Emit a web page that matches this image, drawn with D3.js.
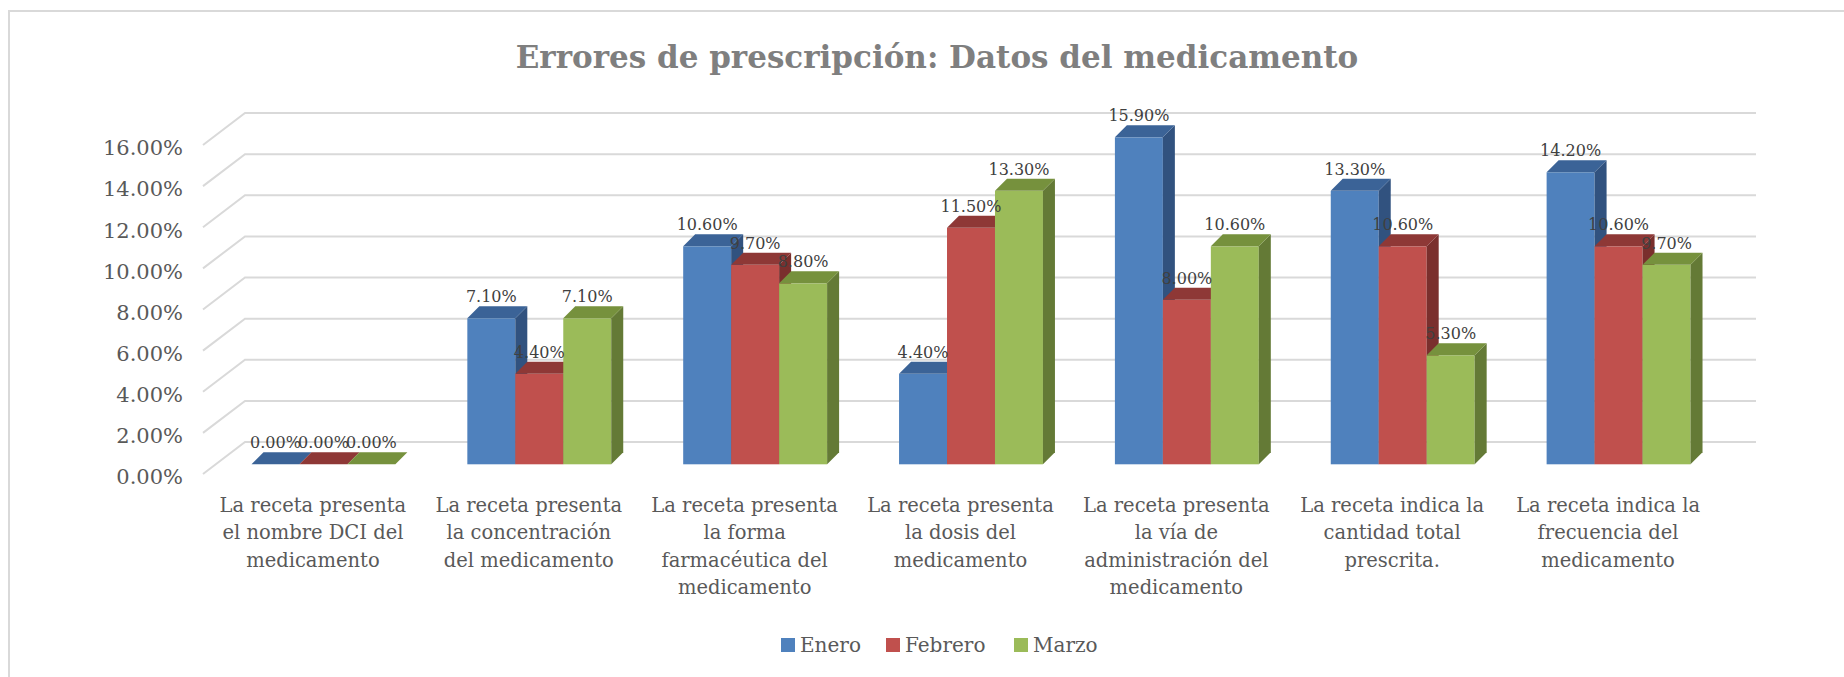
<!DOCTYPE html>
<html>
<head>
<meta charset="utf-8">
<script src="https://cdn.jsdelivr.net/npm/d3@7"></script>
<style>
  body { margin: 0; background: #fff; }
  text { font-family: "DejaVu Serif", serif; }
</style>
</head>
<body>
<div class="canvas-container"></div>
<script>

// data
var categories = [
    ["La receta presenta", "el nombre DCI del", "medicamento"],
    ["La receta presenta", "la concentración", "del medicamento"],
    ["La receta presenta", "la forma", "farmacéutica del", "medicamento"],
    ["La receta presenta", "la dosis del", "medicamento"],
    ["La receta presenta", "la vía de", "administración del", "medicamento"],
    ["La receta indica la", "cantidad total", "prescrita."],
    ["La receta indica la", "frecuencia del", "medicamento"]
];
var seriesNames = ["Enero", "Febrero", "Marzo"];
var enero   = [0.000, 0.071, 0.106, 0.044, 0.159, 0.133, 0.142];
var febrero = [0.000, 0.044, 0.097, 0.115, 0.080, 0.106, 0.106];
var marzo   = [0.000, 0.071, 0.088, 0.133, 0.106, 0.053, 0.097];
var yTicks  = [0, 0.02, 0.04, 0.06, 0.08, 0.10, 0.12, 0.14, 0.16];

var values = [enero, febrero, marzo];

var front = ["#4F81BD", "#C0504D", "#9BBB59"],
    top_  = ["#3B6397", "#8E3836", "#76913D"],
    side  = ["#31527F", "#7A2F2D", "#647A36"];

var width = 1844, height = 677;

// oblique projection offsets
var floorD = {x: 42, y: -32},     // front plane -> back wall
    barOff = {x: 12.5, y: -9.7},  // front plane -> bar front face
    barD   = {x: 12, y: -12};     // bar depth

var svg = d3.select("div.canvas-container")
    .append("svg")
    .attr("width", width)
    .attr("height", height);

svg.append("rect")
    .attr("width", width).attr("height", height)
    .attr("fill", "#fff");

// chart border (only top and left fall inside the picture)
svg.append("path")
    .attr("d", "M9,700 L9,11 L1900,11")
    .attr("fill", "none")
    .attr("stroke", "#d9d9d9")
    .attr("stroke-width", 2);

var x0 = d3.scaleBand()
    .domain(d3.range(categories.length))
    .range([203, 1714]);

var x1 = d3.scaleBand()
    .domain(d3.range(seriesNames.length))
    .range([0, x0.bandwidth()])
    .paddingOuter(0.75);

var y = d3.scaleLinear()
    .domain([0, 0.16])
    .range([474, 145]);

var pct = d3.format(".2%");

// gridlines on floor diagonal + back wall
var grid = svg.append("g");
yTicks.forEach(function (t) {
    var fx = x0.range()[0], fy = y(t);
    grid.append("path")
        .attr("d", "M" + fx + "," + fy +
              "L" + (fx + floorD.x) + "," + (fy + floorD.y) +
              "L" + (x0.range()[1] + floorD.x) + "," + (fy + floorD.y))
        .attr("fill", "none")
        .attr("stroke", "#d9d9d9")
        .attr("stroke-width", 2);
});

// y axis labels
svg.append("g").selectAll("text")
    .data(yTicks)
    .enter()
    .append("text")
    .attr("x", 183)
    .attr("y", function (d) { return y(d) + 3; })
    .attr("dy", "0.35em")
    .attr("text-anchor", "end")
    .attr("font-size", 21)
    .attr("fill", "#595959")
    .text(function (d) { return pct(d); });

// bars
var bars = svg.append("g");
var labels = [];
categories.forEach(function (c, i) {
    seriesNames.forEach(function (s, j) {
        var v = values[j][i];
        var xl = x0(i) + x1(j) + barOff.x,
            xr = xl + x1.bandwidth(),
            yb = y(0) + barOff.y,
            yt = y(v) + barOff.y;

        if (v > 0) {
            bars.append("rect")
                .attr("x", xl).attr("y", yt)
                .attr("width", xr - xl).attr("height", yb - yt)
                .attr("fill", front[j]);
            bars.append("path")
                .attr("d", "M" + xr + "," + yt + "L" + (xr + barD.x) + "," + (yt + barD.y) +
                      "L" + (xr + barD.x) + "," + (yb + barD.y) + "L" + xr + "," + yb + "Z")
                .attr("fill", side[j]);
        }
        bars.append("path")
            .attr("d", "M" + xl + "," + yt + "L" + xr + "," + yt +
                  "L" + (xr + barD.x) + "," + (yt + barD.y) +
                  "L" + (xl + barD.x) + "," + (yt + barD.y) + "Z")
            .attr("fill", top_[j]);

        labels.push({x: (xl + xr) / 2, y: yt + barD.y - 4, v: v});
    });
});

svg.append("g").selectAll("text")
    .data(labels)
    .enter()
    .append("text")
    .attr("x", function (d) { return d.x; })
    .attr("y", function (d) { return d.y; })
    .attr("text-anchor", "middle")
    .attr("font-size", 16)
    .attr("fill", "#404040")
    .text(function (d) { return pct(d.v); });

// category labels
var cat = svg.append("g").selectAll("text")
    .data(categories)
    .enter()
    .append("text")
    .attr("text-anchor", "middle")
    .attr("font-size", 19.5)
    .attr("fill", "#595959");

cat.selectAll("tspan")
    .data(function (d, i) { return d.map(function (l) { return {l: l, i: i}; }); })
    .enter()
    .append("tspan")
    .attr("x", function (d) { return x0(d.i) + x0.bandwidth() / 2 + 2; })
    .attr("y", function (d, k) { return 511.7 + k * 27.5; })
    .text(function (d) { return d.l; });

// title
svg.append("text")
    .attr("x", 937)
    .attr("y", 68)
    .attr("text-anchor", "middle")
    .attr("font-size", 31)
    .attr("font-weight", "bold")
    .attr("fill", "#7f7f7f")
    .text("Errores de prescripción: Datos del medicamento");

// legend
var legendX = [781, 886, 1014];
var leg = svg.append("g").selectAll("g")
    .data(seriesNames)
    .enter()
    .append("g")
    .attr("transform", function (d, i) { return "translate(" + legendX[i] + ",645)"; });

leg.append("rect")
    .attr("x", 0).attr("y", -7)
    .attr("width", 14).attr("height", 14)
    .attr("fill", function (d, i) { return front[i]; });

leg.append("text")
    .attr("x", 19)
    .attr("dy", "0.35em")
    .attr("font-size", 20)
    .attr("fill", "#595959")
    .text(function (d) { return d; });

</script>
</body>
</html>
